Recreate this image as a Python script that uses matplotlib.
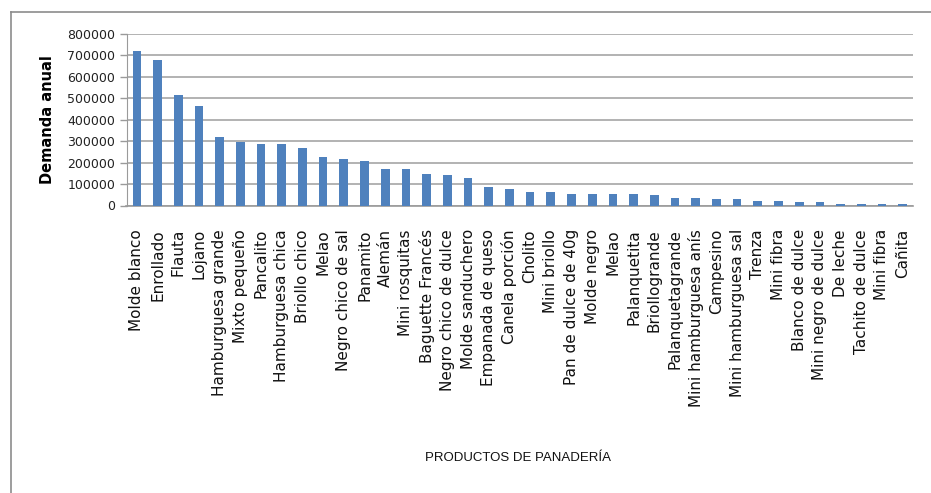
import matplotlib
matplotlib.use("Agg")
import matplotlib.pyplot as plt
from matplotlib.lines import Line2D

productos = [
    "Molde blanco", "Enrollado", "Flauta", "Lojano", "Hamburguesa grande",
    "Mixto pequeño", "Pancalito", "Hamburguesa chica", "Briollo chico", "Melao",
    "Negro chico de sal", "Panamito", "Alemán", "Mini rosquitas", "Baguette Francés",
    "Negro chico de dulce", "Molde sanduchero", "Empanada de queso", "Canela porción",
    "Cholito", "Mini briollo", "Pan de dulce de 40g", "Molde negro", "Melao",
    "Palanquetita", "Briollogrande", "Palanquetagrande", "Mini hamburguesa anís",
    "Campesino", "Mini hamburguesa sal", "Trenza", "Mini fibra", "Blanco de dulce",
    "Mini negro de dulce", "De leche", "Tachito de dulce", "Mini fibra", "Cañita",
]
demanda = [
    722000, 679000, 516000, 466000, 318000, 298000, 289000, 288000, 267000, 224000,
    216000, 207000, 171000, 171000, 149000, 143000, 127000, 84000, 76000, 61000,
    61000, 53000, 53000, 53000, 53000, 47000, 37000, 37000, 30000, 30000,
    23000, 23000, 16000, 16000, 9000, 9000, 9000, 9000,
]
y_ticks = [0, 100000, 200000, 300000, 400000, 500000, 600000, 700000, 800000]

W, H = 931, 493
fig = plt.figure(figsize=(W / 100, H / 100), dpi=100)
fig.patch.set_facecolor("white")

# outer frame (top and left visible)
fig.add_artist(Line2D([10.5 / W, 10.5 / W], [0, 1 - 12 / H], transform=fig.transFigure,
                      color="#8c8c8c", lw=1.2))
fig.add_artist(Line2D([10.5 / W, 1], [1 - 12 / H, 1 - 12 / H], transform=fig.transFigure,
                      color="#8c8c8c", lw=1.2))

left, right = 126.5 / W, 913 / W
bottom, top = 1 - 205.5 / H, 1 - 34 / H
ax = fig.add_axes([left, bottom, right - left, top - bottom])

x = list(range(len(productos)))
ax.bar(x, demanda, width=0.42, color="#4F81BD", zorder=3)

ax.set_xlim(-0.5, len(productos) - 0.5)
ax.set_ylim(0, 800000)
ax.set_yticks(y_ticks)
ax.set_yticklabels([str(v) for v in y_ticks], fontsize=9, family="DejaVu Sans", color="#222222")
ax.set_xticks(x)
ax.set_xticklabels(productos, rotation=90, fontsize=11, family="DejaVu Sans", color="#111111")
ax.tick_params(axis="x", length=0, pad=17)
ax.tick_params(axis="y", length=5, color="#9a9a9a", width=1, pad=3)

ax.grid(axis="y", color="#a6a6a6", lw=1.2, zorder=0)
for s in ["top", "right"]:
    ax.spines[s].set_visible(False)
ax.spines["left"].set_color("#9a9a9a")
ax.spines["bottom"].set_color("#9a9a9a")
ax.spines["bottom"].set_linewidth(1.2)

ax.set_ylabel("Demanda anual", fontsize=10.5, fontweight="bold", family="DejaVu Sans", labelpad=9)
fig.text(518 / W, 1 - 458 / H, "PRODUCTOS DE PANADERÍA", ha="center", va="center",
         fontsize=9.5, family="Liberation Sans", color="#111111")

fig.savefig("out.png", dpi=100, facecolor="white")
